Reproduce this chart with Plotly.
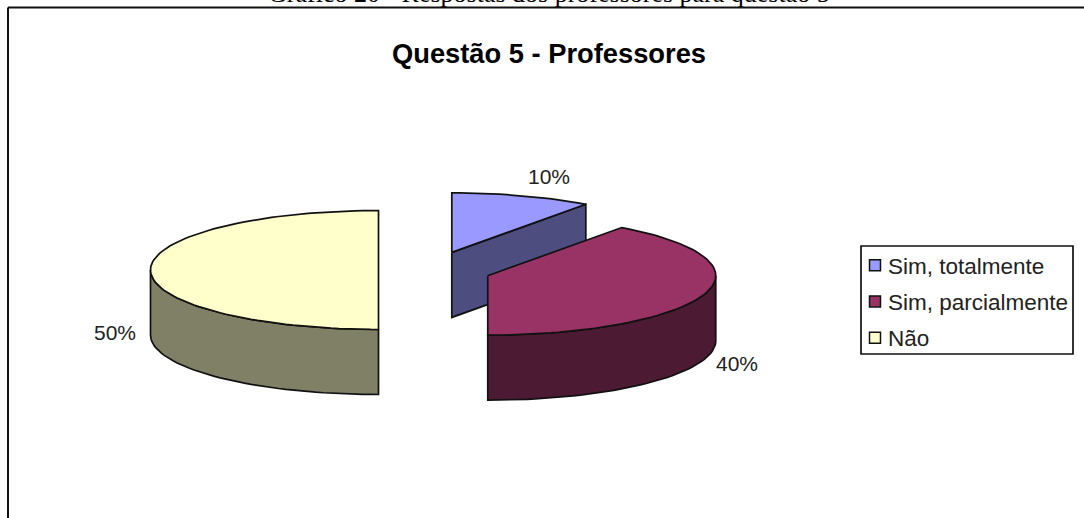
import math
import plotly.graph_objects as go

# ---- data ----
categories = ["Sim, totalmente", "Sim, parcialmente", "Não"]
values = [10, 40, 50]
top_colors = ["#9999FF", "#993366", "#FFFFCC"]
side_colors = ["#4D4D80", "#4D1A33", "#808066"]
chart_title = "Questão 5 - Professores"
caption = "Gráfico 20 - Respostas dos professores para questão 5"

# ---- layout constants (pixels of the 1084x518 canvas) ----
W, H = 1084, 518
CX, CY = 434.5, 270
RX, RY = 228, 59.5
DEPTH = 65
EXPLODE = 56
EXPLODE_Y = 0.33
LABEL_XY = [(549, 176), (737, 363), (115, 332)]
EDGE = "#111111"

def arc(cx, cy, a0, a1):
    n = max(2, int(abs(a1 - a0) / math.radians(2)))
    return [(cx + RX * math.sin(a0 + (a1 - a0) * i / n),
             cy - RY * math.cos(a0 + (a1 - a0) * i / n)) for i in range(n + 1)]

def poly(pts, color):
    xs = [p[0] for p in pts] + [pts[0][0]]
    ys = [p[1] for p in pts] + [pts[0][1]]
    return go.Scatter(x=xs, y=ys, mode="lines", fill="toself", fillcolor=color,
                      line=dict(color=EDGE, width=1.7), showlegend=False, hoverinfo="skip")

fig = go.Figure()
total = sum(values)
cum = 0
for val, top, side in zip(values, top_colors, side_colors):
    a0 = 2 * math.pi * cum / total
    a1 = 2 * math.pi * (cum + val) / total
    cum += val
    mid = (a0 + a1) / 2
    cx = CX + EXPLODE * math.sin(mid)
    cy = CY - EXPLODE * EXPLODE_Y * math.cos(mid)
    # visible cut face at the end of the slice
    if math.sin(a1) > 1e-9:
        ex, ey = cx + RX * math.sin(a1), cy - RY * math.cos(a1)
        fig.add_trace(poly([(cx, cy), (ex, ey), (ex, ey + DEPTH), (cx, cy + DEPTH)], side))
    # visible outer rim (front half of the ellipse)
    r0, r1 = max(a0, math.pi / 2), min(a1, 3 * math.pi / 2)
    if r1 > r0:
        rim = arc(cx, cy, r0, r1)
        fig.add_trace(poly(rim + [(x, y + DEPTH) for x, y in reversed(rim)], side))
    # top face
    fig.add_trace(poly([(cx, cy)] + arc(cx, cy, a0, a1), top))

# legend entries
for name, color in zip(categories, top_colors):
    fig.add_trace(go.Scatter(x=[None], y=[None], mode="markers", name=name, legendgroup=name,
                             marker=dict(symbol="square", size=11, color=color,
                                         line=dict(color=EDGE, width=1.5))))

annotations = [
    dict(x=549, y=53, xref="x", yref="y", text=f"<b>{chart_title}</b>", showarrow=False,
         font=dict(family="Liberation Sans", size=27.3, color="#000000")),
    dict(x=549, y=0, yshift=7, xref="x", yref="y", text=caption, showarrow=False,
         font=dict(family="Liberation Serif", size=26, color="#000000")),
]
for (lx, ly), val in zip(LABEL_XY, values):
    annotations.append(dict(x=lx, y=ly, xref="x", yref="y", text=f"{val}%", showarrow=False,
                            font=dict(family="Liberation Sans", size=21, color="#222222")))

fig.update_layout(
    width=W, height=H, margin=dict(l=0, r=0, t=0, b=0),
    paper_bgcolor="white", plot_bgcolor="white",
    xaxis=dict(range=[0, W], visible=False, fixedrange=True),
    yaxis=dict(range=[H, 0], visible=False, fixedrange=True),
    annotations=annotations,
    shapes=[
        dict(type="line", x0=8, x1=8, y0=7.5, y1=H, xref="x", yref="y", line=dict(color="#111111", width=2)),
        dict(type="line", x0=8, x1=W, y0=7.5, y1=7.5, xref="x", yref="y", line=dict(color="#111111", width=2)),
        dict(type="rect", x0=861, x1=1073, y0=246, y1=354, xref="x", yref="y",
             line=dict(color="#111111", width=1.7), fillcolor="white"),
    ],
    legend=dict(x=855 / W, y=1 - 244 / H, xanchor="left", yanchor="top", bgcolor="rgba(0,0,0,0)",
                borderwidth=0, indentation=-7, tracegroupgap=4, traceorder="grouped",
                font=dict(family="Liberation Sans", size=22.5, color="#222222")),
)
fig.write_html(
    "out.html",
    config={"displayModeBar": False},
    post_script="document.body.style.margin='0';"
                "document.querySelectorAll('.legend .legendsymbols').forEach(function(e){"
                "e.setAttribute('transform','translate(7,0)');});",
)
